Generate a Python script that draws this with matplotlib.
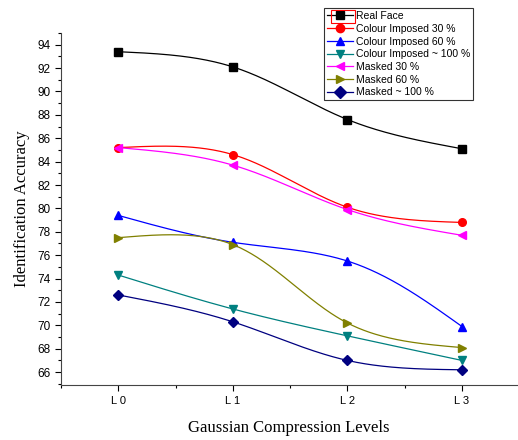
import numpy as np
import matplotlib
matplotlib.use("Agg")
import matplotlib.pyplot as plt
from matplotlib.ticker import MultipleLocator
from matplotlib.patches import Rectangle

plt.rcParams["font.family"] = ["Liberation Sans", "DejaVu Sans"]

levels = ["L 0", "L 1", "L 2", "L 3"]
real_face = [93.4, 92.1, 87.6, 85.1]
colour_30 = [85.2, 84.6, 80.1, 78.8]
colour_60 = [79.4, 77.1, 75.5, 69.9]
colour_100 = [74.3, 71.4, 69.1, 67.0]
masked_30 = [85.2, 83.7, 79.9, 77.7]
masked_60 = [77.5, 76.9, 70.2, 68.1]
masked_100 = [72.6, 70.3, 67.0, 66.2]

series = [
    ("Real Face", real_face, "black", "s"),
    ("Colour Imposed 30 %", colour_30, "red", "o"),
    ("Colour Imposed 60 %", colour_60, "blue", "^"),
    ("Colour Imposed ~ 100 %", colour_100, "#008080", "v"),
    ("Masked 30 %", masked_30, "magenta", "<"),
    ("Masked 60 %", masked_60, "#808000", ">"),
    ("Masked ~ 100 %", masked_100, "#000080", "D"),
]


def nat_spline_1d(t, y, ts):
    k = len(t)
    h = np.diff(t)
    A = np.zeros((k, k))
    b = np.zeros(k)
    A[0, 0] = 1
    A[-1, -1] = 1
    for i in range(1, k - 1):
        A[i, i - 1] = h[i - 1]
        A[i, i] = 2 * (h[i - 1] + h[i])
        A[i, i + 1] = h[i]
        b[i] = 6 * ((y[i + 1] - y[i]) / h[i] - (y[i] - y[i - 1]) / h[i - 1])
    M = np.linalg.solve(A, b)
    out = np.empty_like(ts)
    for j, s in enumerate(ts):
        i = min(max(np.searchsorted(t, s, side="right") - 1, 0), k - 2)
        a = t[i + 1] - s
        c = s - t[i]
        out[j] = (M[i] * a**3 + M[i + 1] * c**3) / (6 * h[i]) \
            + (y[i] / h[i] - M[i] * h[i] / 6) * a \
            + (y[i + 1] / h[i] - M[i + 1] * h[i] / 6) * c
    return out


def param_spline(x, y, xscale=115.0, yscale=11.7, n=300):
    x = np.asarray(x, float)
    y = np.asarray(y, float)
    px, py = x * xscale, y * yscale
    d = np.hypot(np.diff(px), np.diff(py))
    t = np.concatenate([[0], np.cumsum(d)])
    ts = np.linspace(0, t[-1], n)
    return nat_spline_1d(t, x, ts), nat_spline_1d(t, y, ts)


fig = plt.figure(figsize=(5.18, 4.4), dpi=100)
ax = fig.add_axes([0.118, 0.125, 0.88, 0.80])

x = np.arange(len(levels))
handles = []
for name, vals, col, mk in series:
    xs, ys = param_spline(x, vals)
    ax.plot(xs, ys, color=col, lw=0.9)
    ax.plot(x, vals, linestyle="none", marker=mk, color=col, markersize=5.5)
    h, = ax.plot([], [], color=col, lw=0.9, marker=mk, markersize=6, label=name)
    handles.append(h)

ax.set_xlim(-0.5, 3.48)
ax.set_ylim(64.9, 95)
ax.set_xticks(x)
ax.set_xticklabels(levels)
ax.xaxis.set_minor_locator(MultipleLocator(0.5))
ax.yaxis.set_major_locator(MultipleLocator(2))
ax.yaxis.set_minor_locator(MultipleLocator(1))
ax.tick_params(which="major", direction="out", length=4.3, width=0.8,
               pad=3.5, labelsize=8)
ax.tick_params(axis="y", which="major", labelsize=8.5)
ax.tick_params(which="minor", direction="out", length=2.5, width=0.8)
ax.spines["top"].set_visible(False)
ax.spines["right"].set_visible(False)
ax.spines["left"].set_color("#444444")
ax.spines["bottom"].set_color("#444444")

ax.set_xlabel("Gaussian Compression Levels", fontfamily="Liberation Serif",
              fontsize=12, labelpad=10)
ax.set_ylabel("Identification Accuracy", fontfamily="Liberation Serif",
              fontsize=12, labelpad=5)

leg = fig.legend(handles=handles, loc="upper left",
                 bbox_to_anchor=(324 / 518, 1 - 8 / 440),
                 prop={"family": "Liberation Sans", "size": 7.5},
                 frameon=True, fancybox=False, edgecolor="black",
                 borderpad=0.3, labelspacing=0.26, handlelength=2.5,
                 handletextpad=0.25, borderaxespad=0)
leg.get_frame().set_linewidth(0.8)

# red selection box around the first legend entry's handle
fig.canvas.draw()
r = fig.canvas.get_renderer()
lb = leg.get_window_extent(r)
tb = leg.get_texts()[0].get_window_extent(r)
x0 = lb.x0 + 7
x1 = tb.x0 - 1
yc = 0.5 * (tb.y0 + tb.y1)
y0 = yc - 6.5
y1 = yc + 6.5
fig.patches.append(Rectangle((x0 / fig.bbox.width, y0 / fig.bbox.height),
                             (x1 - x0) / fig.bbox.width,
                             (y1 - y0) / fig.bbox.height,
                             transform=fig.transFigure, fill=False,
                             edgecolor="red", lw=0.8, zorder=10))

fig.savefig("out.png", dpi=100)
